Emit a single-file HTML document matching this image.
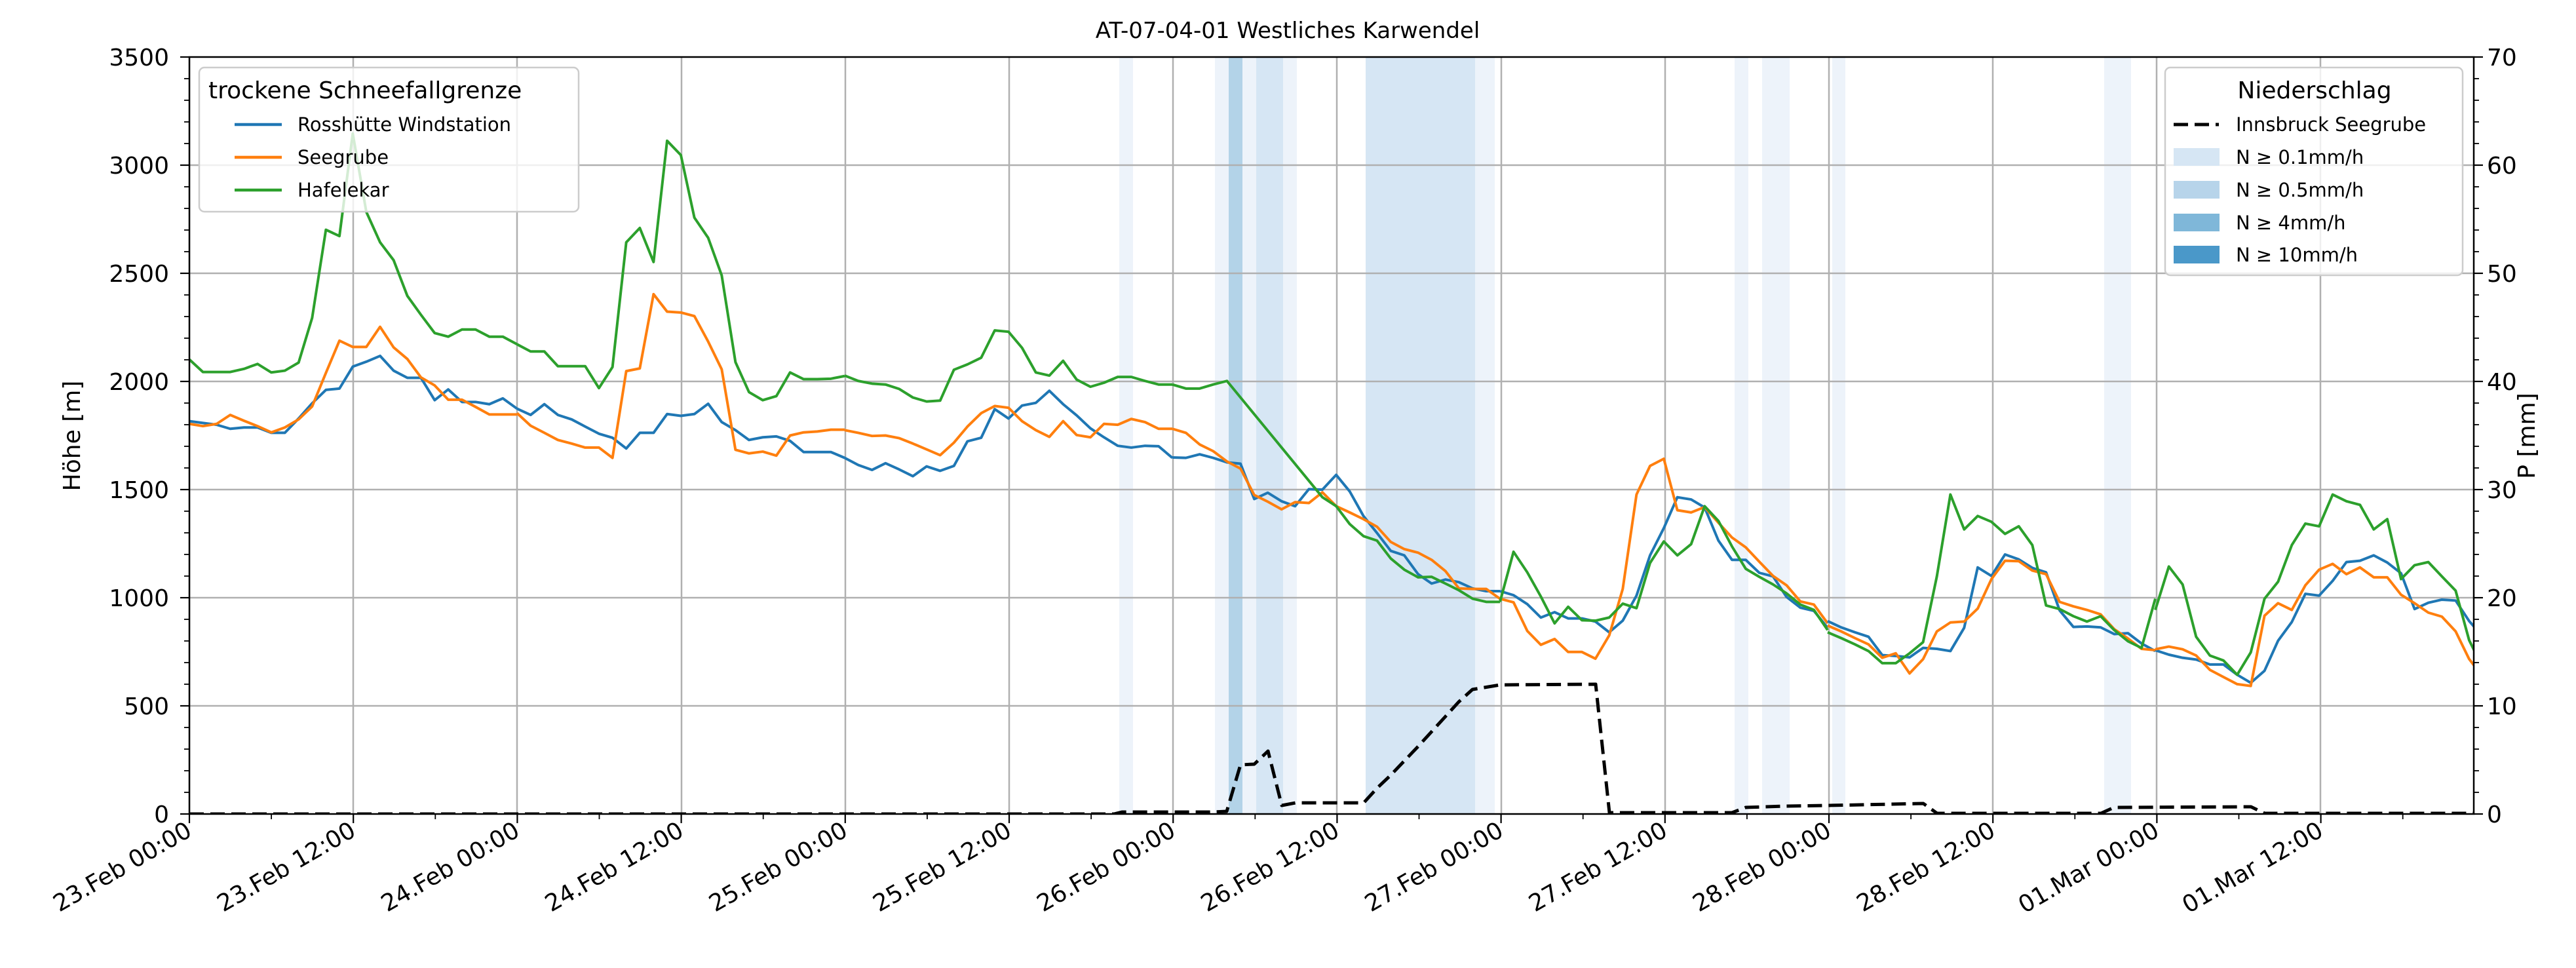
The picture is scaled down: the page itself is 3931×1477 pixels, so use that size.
<!DOCTYPE html>
<html><head><meta charset="utf-8"><style>
html,body{margin:0;padding:0;background:#fff;}
svg{display:block;font-family:"DejaVu Sans","Liberation Sans",sans-serif;}
</style></head><body>
<svg width="3931" height="1477" viewBox="0 0 3931 1477" xmlns="http://www.w3.org/2000/svg">
<defs><clipPath id="c"><rect x="289" y="87" width="3486" height="1155"/></clipPath></defs>
<rect width="3931" height="1477" fill="#fff"/>
<g clip-path="url(#c)">
<rect x="1708" y="87" width="21" height="1155" fill="#edf3fa"/>
<rect x="1854" y="87" width="21" height="1155" fill="#edf3fa"/>
<rect x="1875" y="87" width="21" height="1155" fill="#b3d3e8"/>
<rect x="1896" y="87" width="21" height="1155" fill="#edf3fa"/>
<rect x="1917" y="87" width="41" height="1155" fill="#d6e6f4"/>
<rect x="1958" y="87" width="21" height="1155" fill="#edf3fa"/>
<rect x="2084" y="87" width="167" height="1155" fill="#d6e6f4"/>
<rect x="2251" y="87" width="30" height="1155" fill="#edf3fa"/>
<rect x="2647" y="87" width="21" height="1155" fill="#edf3fa"/>
<rect x="2689" y="87" width="42" height="1155" fill="#edf3fa"/>
<rect x="2796" y="87" width="20" height="1155" fill="#edf3fa"/>
<rect x="3211" y="87" width="41" height="1155" fill="#edf3fa"/>
<g stroke="#b0b0b0" stroke-width="2.5">
<line x1="289" x2="3775" y1="252" y2="252"/><line x1="289" x2="3775" y1="417" y2="417"/>
<line x1="289" x2="3775" y1="582" y2="582"/><line x1="289" x2="3775" y1="747" y2="747"/>
<line x1="289" x2="3775" y1="912" y2="912"/><line x1="289" x2="3775" y1="1077" y2="1077"/>
<line x1="289" x2="289" y1="87" y2="1242"/><line x1="539" x2="539" y1="87" y2="1242"/>
<line x1="789" x2="789" y1="87" y2="1242"/><line x1="1040" x2="1040" y1="87" y2="1242"/>
<line x1="1290" x2="1290" y1="87" y2="1242"/><line x1="1540" x2="1540" y1="87" y2="1242"/>
<line x1="1790" x2="1790" y1="87" y2="1242"/><line x1="2040" x2="2040" y1="87" y2="1242"/>
<line x1="2291" x2="2291" y1="87" y2="1242"/><line x1="2541" x2="2541" y1="87" y2="1242"/>
<line x1="2791" x2="2791" y1="87" y2="1242"/><line x1="3041" x2="3041" y1="87" y2="1242"/>
<line x1="3291" x2="3291" y1="87" y2="1242"/><line x1="3541" x2="3541" y1="87" y2="1242"/>
</g>
<g fill="none" stroke-width="4" stroke-linejoin="round">
<g transform="translate(289,180) scale(0.33333,0.6824)">
<polyline vector-effect="non-scaling-stroke" stroke="#1f77b4" points="0,678 62,682 125,686 187,695 250,692 312,692 375,704 437,704 500,672 562,638 625,608 687,605 748,556 810,545 873,532 935,565 998,581 1060,581 1123,631 1185,607 1248,635 1310,635 1373,640 1435,627 1500,650"/>
<polyline vector-effect="non-scaling-stroke" stroke="#ff7f0e" points="0,684 62,689 125,684 187,664 250,677 312,689 375,703 437,692 500,674 562,645 625,570 687,498 748,512 810,512 873,467 935,513 998,539 1060,580 1123,598 1185,630 1248,630 1310,646 1373,663 1435,663 1500,663"/>
<polyline vector-effect="non-scaling-stroke" stroke="#2ca02c" points="0,540 62,568 125,568 187,568 250,561 312,550 375,569 437,565 500,547 562,447 625,250 687,264 748,35 810,210 873,278 935,318 998,398 1060,440 1123,481 1185,489 1248,473 1310,473 1373,489 1435,489 1500,506"/>
</g>
<g transform="translate(789,180) scale(0.33333,0.6824)">
<polyline vector-effect="non-scaling-stroke" stroke="#1f77b4" points="0,650 62,664 125,640 187,664 250,674 312,690 375,706 437,715 500,739 562,704 625,704 687,662 750,666 812,662 875,639 937,680 1000,698 1062,720 1125,714 1187,712 1250,722 1312,747 1375,747 1437,747 1500,760"/>
<polyline vector-effect="non-scaling-stroke" stroke="#ff7f0e" points="0,660 62,688 125,704 187,720 250,728 312,737 375,737 437,760 500,566 562,560 625,394 687,433 750,435 812,443 875,500 937,562 1000,742 1062,750 1125,746 1187,755 1250,710 1312,703 1375,701 1437,697 1500,697"/>
<polyline vector-effect="non-scaling-stroke" stroke="#2ca02c" points="0,506 62,522 125,522 187,555 250,555 312,555 375,604 437,557 500,278 562,246 625,322 687,51 750,83 812,223 875,268 937,352 1000,546 1062,613 1125,631 1187,622 1250,569 1312,584 1375,584 1437,583 1500,577"/>
</g>
<g transform="translate(1289,180) scale(0.33333,0.6824)">
<polyline vector-effect="non-scaling-stroke" stroke="#1f77b4" points="0,760 62,776 125,787 187,772 250,786 312,801 375,779 437,789 500,778 562,723 625,715 687,651 750,672 812,643 875,637 937,610 1000,640 1062,665 1125,694 1187,714 1250,733 1312,737 1375,733 1437,734 1500,760"/>
<polyline vector-effect="non-scaling-stroke" stroke="#ff7f0e" points="0,698 62,704 125,711 187,710 250,716 312,728 375,741 437,754 500,726 562,690 625,660 687,644 750,648 812,678 875,698 937,713 1000,678 1062,709 1125,714 1187,684 1250,686 1312,673 1375,680 1437,695 1500,695"/>
<polyline vector-effect="non-scaling-stroke" stroke="#2ca02c" points="0,576 62,588 125,594 187,596 250,606 312,625 375,634 437,632 500,563 562,551 625,536 687,475 750,478 812,514 875,569 937,576 1000,543 1062,585 1125,601 1187,592 1250,579 1312,579 1375,588 1437,596 1500,596"/>
</g>
<g transform="translate(1789,180) scale(0.33333,0.6824)">
<polyline vector-effect="non-scaling-stroke" stroke="#1f77b4" points="0,759 62,760 125,752 187,760 250,770 312,773 375,852 437,838 500,857 562,868 625,830 687,831 750,798 812,835 875,890 937,928 1000,968 1062,978 1125,1020 1187,1041 1250,1032 1312,1038 1375,1052 1437,1058 1500,1058"/>
<polyline vector-effect="non-scaling-stroke" stroke="#ff7f0e" points="0,695 62,704 125,730 187,745 250,768 312,784 375,843 437,858 500,875 562,859 625,861 687,837 750,868 812,882 875,897 937,914 1000,948 1062,964 1125,972 1187,988 1250,1013 1312,1052 1375,1053 1437,1053 1500,1075"/>
<polyline vector-effect="non-scaling-stroke" stroke="#2ca02c" points="0,596 62,605 125,605 187,596 250,588 687,848 750,868 812,908 875,935 937,945 1000,985 1062,1010 1125,1027 1187,1026 1250,1041 1312,1056 1375,1075 1437,1082 1500,1082"/>
</g>
<g transform="translate(2289,180) scale(0.33333,0.6824)">
<polyline vector-effect="non-scaling-stroke" stroke="#1f77b4" points="0,1058 62,1067 125,1087 187,1117 250,1105 312,1119 375,1119 437,1126 500,1150 562,1124 625,1068 687,978 750,917 812,848 875,853 937,871 1000,945 1062,988 1125,988 1187,1017 1250,1025 1312,1071 1375,1095 1437,1102 1500,1140"/>
<polyline vector-effect="non-scaling-stroke" stroke="#ff7f0e" points="0,1075 62,1083 125,1147 187,1178 250,1165 312,1194 375,1194 437,1209 500,1157 562,1053 625,842 687,778 750,762 812,877 875,882 937,870 1000,905 1062,938 1125,960 1187,992 1250,1024 1312,1045 1375,1081 1437,1088 1500,1130"/>
<polyline vector-effect="non-scaling-stroke" stroke="#2ca02c" points="0,1082 62,970 125,1016 187,1070 250,1130 312,1093 375,1123 437,1124 500,1117 562,1086 625,1096 687,995 750,947 812,978 875,953 937,868 1000,901 1062,958 1125,1008 1187,1026 1250,1043 1312,1063 1375,1088 1437,1100 1500,1145"/>
</g>
<g transform="translate(2789,180) scale(0.33333,0.6824)">
<polyline vector-effect="non-scaling-stroke" stroke="#1f77b4" points="0,1125 62,1139 125,1150 187,1160 250,1201 312,1203 375,1206 437,1185 500,1187 562,1192 625,1140 687,1005 750,1024 812,976 875,987 937,1006 1000,1016 1062,1101 1125,1138 1187,1137 1250,1139 1312,1154 1375,1152 1437,1175 1500,1192"/>
<polyline vector-effect="non-scaling-stroke" stroke="#ff7f0e" points="0,1135 62,1148 125,1163 187,1177 250,1207 312,1197 375,1242 437,1210 500,1148 562,1128 625,1126 687,1097 750,1031 812,990 875,991 937,1012 1000,1020 1062,1082 1125,1092 1187,1100 1250,1110 1312,1143 1375,1164 1437,1187 1500,1190"/>
<polyline vector-effect="non-scaling-stroke" stroke="#2ca02c" points="0,1150 62,1163 125,1177 187,1192 250,1219 312,1219 375,1197 437,1172 500,1025 562,842 625,920 687,890 750,903 812,930 875,913 937,955 1000,1090 1062,1098 1125,1114 1187,1126 1250,1114 1312,1145 1375,1170 1437,1185 1500,1075"/>
</g>
<g transform="translate(3289,180) scale(0.33333,0.6824)">
<polyline vector-effect="non-scaling-stroke" stroke="#1f77b4" points="0,1190 62,1200 125,1207 187,1211 250,1222 312,1222 375,1245 437,1263 500,1236 562,1169 625,1127 687,1064 750,1068 812,1035 875,993 937,990 1000,978 1062,994 1125,1018 1187,1098 1250,1084 1312,1077 1375,1079 1437,1125 1500,1160"/>
<polyline vector-effect="non-scaling-stroke" stroke="#ff7f0e" points="0,1188 62,1182 125,1188 187,1202 250,1234 312,1250 375,1266 437,1270 500,1113 562,1085 625,1100 687,1045 750,1010 812,997 875,1020 937,1005 1000,1027 1062,1027 1125,1066 1187,1085 1250,1106 1312,1115 1375,1148 1437,1210 1500,1250"/>
<polyline vector-effect="non-scaling-stroke" stroke="#2ca02c" points="0,1100 62,1003 125,1043 187,1160 250,1202 312,1213 375,1245 437,1195 500,1075 562,1037 625,955 687,907 750,913 812,842 875,857 937,865 1000,920 1062,897 1125,1031 1187,1000 1250,993 1312,1025 1375,1057 1437,1168 1500,1230"/>
</g>
<polyline stroke="#000" stroke-width="5" stroke-dasharray="22 10" points="289,1242 1700,1242 1712,1239 1850,1239 1872,1238 1893,1167 1914,1166 1935,1146 1956,1229 1977,1225 2081,1225 2102,1202 2122,1183 2143,1161 2164,1139 2185,1116 2206,1093 2226,1071 2247,1052 2289,1045 2435,1044 2456,1240 2643,1240 2664,1232 2726,1230 2789,1229 2935,1226 2956,1241 3206,1241 3226,1232 3435,1231 3456,1241 3775,1241"/>
</g>
</g>
<rect x="289" y="87" width="3486" height="1155" fill="none" stroke="#000" stroke-width="2.5"/>
<g stroke="#000" stroke-width="2.2">
<line x1="275" x2="289" y1="87" y2="87"/><line x1="275" x2="289" y1="252" y2="252"/><line x1="275" x2="289" y1="417" y2="417"/><line x1="275" x2="289" y1="582" y2="582"/><line x1="275" x2="289" y1="747" y2="747"/><line x1="275" x2="289" y1="912" y2="912"/><line x1="275" x2="289" y1="1077" y2="1077"/><line x1="275" x2="289" y1="1242" y2="1242"/>
<line x1="3775" x2="3789" y1="87" y2="87"/><line x1="3775" x2="3789" y1="252" y2="252"/><line x1="3775" x2="3789" y1="417" y2="417"/><line x1="3775" x2="3789" y1="582" y2="582"/><line x1="3775" x2="3789" y1="747" y2="747"/><line x1="3775" x2="3789" y1="912" y2="912"/><line x1="3775" x2="3789" y1="1077" y2="1077"/><line x1="3775" x2="3789" y1="1242" y2="1242"/>
</g>
<g id="minors" stroke="#000" stroke-width="1.8"></g>
<g font-size="36" fill="#000">
<text x="1965" y="58" text-anchor="middle" font-size="34">AT-07-04-01 Westliches Karwendel</text>
<g text-anchor="end">
<text x="258" y="100">3500</text><text x="258" y="265">3000</text><text x="258" y="430">2500</text><text x="258" y="595">2000</text><text x="258" y="760">1500</text><text x="258" y="925">1000</text><text x="258" y="1090">500</text><text x="258" y="1255">0</text>
</g>
<g text-anchor="start">
<text x="3795" y="100">70</text><text x="3795" y="265">60</text><text x="3795" y="430">50</text><text x="3795" y="595">40</text><text x="3795" y="760">30</text><text x="3795" y="925">20</text><text x="3795" y="1090">10</text><text x="3795" y="1255">0</text>
</g>
<text transform="translate(122,665) rotate(-90)" text-anchor="middle">Höhe [m]</text>
<text transform="translate(3868,665) rotate(-90)" text-anchor="middle">P [mm]</text>
<g id="xl" text-anchor="end"></g>
</g>
<rect x="304" y="103" width="579" height="220" rx="8" fill="#fff" fill-opacity="0.8" stroke="#cccccc" stroke-width="2.5"/>
<text x="318" y="150" font-size="36">trockene Schneefallgrenze</text>
<g stroke-width="4.5"><line x1="358" x2="430" y1="190" y2="190" stroke="#1f77b4"/><line x1="358" x2="430" y1="240" y2="240" stroke="#ff7f0e"/><line x1="358" x2="430" y1="290" y2="290" stroke="#2ca02c"/></g>
<g font-size="29"><text x="454" y="200">Rosshütte Windstation</text><text x="454" y="250">Seegrube</text><text x="454" y="300">Hafelekar</text></g>
<rect x="3304" y="103" width="454" height="317" rx="8" fill="#fff" fill-opacity="0.8" stroke="#cccccc" stroke-width="2.5"/>
<text x="3532" y="150" font-size="36" text-anchor="middle">Niederschlag</text>
<line x1="3317" x2="3386" y1="190" y2="190" stroke="#000" stroke-width="5" stroke-dasharray="22 10"/>
<rect x="3317" y="226" width="70" height="27" fill="#d6e6f4"/>
<rect x="3317" y="276" width="70" height="27" fill="#b7d4ea"/>
<rect x="3317" y="326" width="70" height="27" fill="#7fb7d9"/>
<rect x="3317" y="375" width="70" height="27" fill="#4a98c9"/>
<g font-size="29"><text x="3412" y="200">Innsbruck Seegrube</text><text x="3412" y="250">N ≥ 0.1mm/h</text><text x="3412" y="300">N ≥ 0.5mm/h</text><text x="3412" y="350">N ≥ 4mm/h</text><text x="3412" y="399">N ≥ 10mm/h</text></g>
</svg>
<script>
var ns="http://www.w3.org/2000/svg";
var m=document.getElementById("minors");
function ln(x1,y1,x2,y2,sw){var l=document.createElementNS(ns,"line");l.setAttribute("x1",x1);l.setAttribute("y1",y1);l.setAttribute("x2",x2);l.setAttribute("y2",y2);if(sw)l.setAttribute("stroke-width",sw);m.appendChild(l);}
for(var i=0;i<35;i++){if(i%5==0)continue;var y=1242-i*33;ln(281,y,289,y);ln(3775,y,3783,y);}
var lab=["23.Feb 00:00","23.Feb 12:00","24.Feb 00:00","24.Feb 12:00","25.Feb 00:00","25.Feb 12:00","26.Feb 00:00","26.Feb 12:00","27.Feb 00:00","27.Feb 12:00","28.Feb 00:00","28.Feb 12:00","01.Mar 00:00","01.Mar 12:00"];
var xl=document.getElementById("xl");
for(var k=0;k<28;k++){var x=289+k*125.1;if(x>3775)break;if(k%2==0){ln(x,1242,x,1256,2.2);var t=document.createElementNS(ns,"text");t.setAttribute("transform","translate("+(x+6)+",1274) rotate(-30)");t.textContent=lab[k/2];xl.appendChild(t);}else ln(x,1242,x,1250);}
</script>
</body></html>
